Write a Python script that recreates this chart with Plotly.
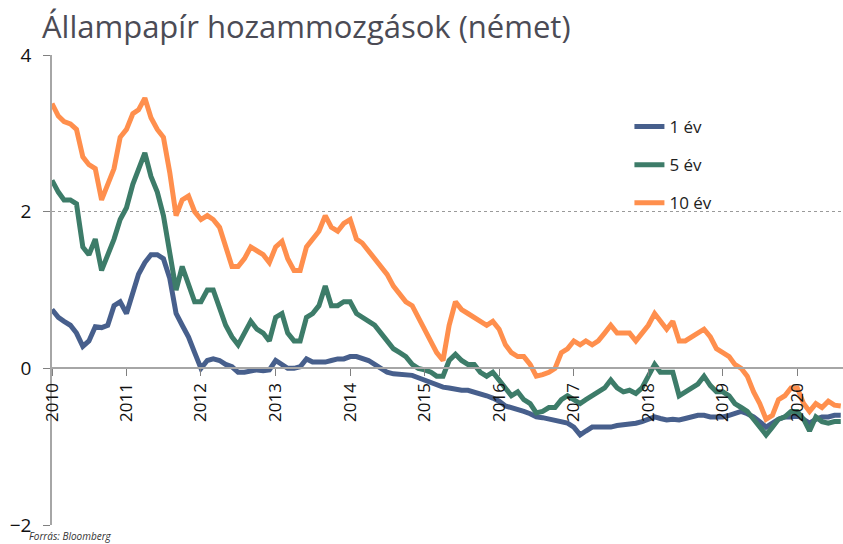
import plotly.graph_objects as go
import pandas as pd

dates = pd.date_range("2010-01-01", periods=128, freq="MS")

y1 = [0.75, 0.65, 0.60, 0.55, 0.45, 0.28, 0.35, 0.53, 0.52, 0.55, 0.80, 0.85,
      0.70, 0.95, 1.20, 1.35, 1.45, 1.45, 1.40, 1.15, 0.70, 0.55, 0.40, 0.20,
      0.00, 0.10, 0.12, 0.10, 0.05, 0.02, -0.05, -0.05, -0.03, -0.02, -0.03, -0.02,
      0.10, 0.05, 0.00, 0.00, 0.02, 0.12, 0.08, 0.08, 0.08, 0.10, 0.12, 0.12,
      0.15, 0.15, 0.12, 0.10, 0.05, 0.00, -0.05, -0.07, -0.08, -0.08, -0.09, -0.12,
      -0.15, -0.18, -0.22, -0.24, -0.25, -0.27, -0.28, -0.28, -0.30, -0.33, -0.35, -0.38,
      -0.42, -0.48, -0.50, -0.52, -0.55, -0.58, -0.62, -0.63, -0.65, -0.66, -0.68, -0.70,
      -0.75, -0.85, -0.80, -0.75, -0.75, -0.75, -0.75, -0.73, -0.72, -0.72, -0.70, -0.68,
      -0.65, -0.62, -0.64, -0.66, -0.65, -0.66, -0.64, -0.62, -0.60, -0.60, -0.62, -0.62,
      -0.62, -0.60, -0.57, -0.55, -0.58, -0.62, -0.68, -0.75, -0.70, -0.65, -0.62, -0.62,
      -0.60, -0.65, -0.70, -0.65, -0.62, -0.62, -0.60, -0.60]

y5 = [2.40, 2.25, 2.15, 2.15, 2.10, 1.55, 1.45, 1.65, 1.25, 1.45, 1.65, 1.90,
      2.05, 2.35, 2.55, 2.75, 2.45, 2.25, 1.95, 1.50, 1.00, 1.30, 1.05, 0.85,
      0.85, 1.00, 1.00, 0.75, 0.55, 0.40, 0.30, 0.45, 0.60, 0.50, 0.45, 0.35,
      0.65, 0.70, 0.45, 0.35, 0.35, 0.65, 0.70, 0.80, 1.05, 0.80, 0.80, 0.85,
      0.85, 0.70, 0.65, 0.60, 0.55, 0.45, 0.35, 0.25, 0.20, 0.15, 0.05, 0.00,
      -0.02, -0.05, -0.10, -0.10, 0.10, 0.18, 0.10, 0.05, 0.05, -0.05, -0.10, -0.05,
      -0.15, -0.25, -0.35, -0.30, -0.40, -0.45, -0.57, -0.55, -0.50, -0.50, -0.40, -0.35,
      -0.40, -0.45, -0.40, -0.35, -0.30, -0.25, -0.15, -0.25, -0.30, -0.28, -0.32, -0.25,
      -0.10, 0.05, -0.05, -0.05, -0.05, -0.35, -0.30, -0.25, -0.20, -0.10, -0.22, -0.30,
      -0.30, -0.35, -0.45, -0.50, -0.55, -0.65, -0.75, -0.85, -0.75, -0.65, -0.62, -0.55,
      -0.55, -0.65, -0.80, -0.62, -0.68, -0.70, -0.68, -0.68]

y10 = [3.38, 3.22, 3.15, 3.12, 3.05, 2.70, 2.60, 2.55, 2.15, 2.35, 2.55, 2.95,
       3.05, 3.25, 3.30, 3.45, 3.20, 3.05, 2.95, 2.50, 1.95, 2.15, 2.20, 2.00,
       1.90, 1.95, 1.90, 1.80, 1.55, 1.30, 1.30, 1.40, 1.55, 1.50, 1.45, 1.35,
       1.55, 1.62, 1.40, 1.25, 1.25, 1.55, 1.65, 1.75, 1.95, 1.80, 1.75, 1.85,
       1.90, 1.65, 1.60, 1.50, 1.40, 1.30, 1.20, 1.05, 0.95, 0.85, 0.80, 0.65,
       0.50, 0.35, 0.20, 0.10, 0.55, 0.85, 0.75, 0.70, 0.65, 0.60, 0.55, 0.60,
       0.50, 0.30, 0.20, 0.15, 0.15, 0.05, -0.10, -0.08, -0.05, 0.00, 0.20, 0.25,
       0.35, 0.30, 0.35, 0.30, 0.35, 0.45, 0.55, 0.45, 0.45, 0.45, 0.35, 0.45,
       0.55, 0.70, 0.60, 0.50, 0.60, 0.35, 0.35, 0.40, 0.45, 0.50, 0.40, 0.25,
       0.20, 0.15, 0.05, 0.00, -0.10, -0.30, -0.45, -0.65, -0.60, -0.40, -0.35, -0.25,
       -0.25, -0.45, -0.55, -0.45, -0.50, -0.42, -0.47, -0.48]

names = ["1 év", "5 év", "10 év"]
colors = ["#475f8c", "#3d7c69", "#ff8f4d"]
year_ticks = [f"{y}-01-01" for y in range(2010, 2021)]
year_labels = [str(y) for y in range(2010, 2021)]

fig = go.Figure()
for i, (nm, ys) in enumerate(zip(names, [y1, y5, y10])):
    fig.add_trace(go.Scatter(x=dates, y=ys, mode="lines", name=nm,
                             legendgroup=nm,
                             line=dict(color=colors[i], width=5)))

FONT = "Open Sans"
fig.update_layout(
    width=843, height=544,
    margin=dict(l=52, r=0, t=55, b=19, autoexpand=False),
    plot_bgcolor="white", paper_bgcolor="white",
    font=dict(family=FONT, color="#222222"),
    title=dict(text="Állampapír hozammozgások (német)", xref="container", yref="container",
               x=42/843, y=1-27/544, xanchor="left", yanchor="middle",
               font=dict(size=31, color="#4b4b55", family=FONT)),
    showlegend=True,
    legend=dict(x=0.73, y=0.885, xanchor="left", yanchor="top",
                font=dict(size=17, color="#222222"), bgcolor="rgba(0,0,0,0)",
                tracegroupgap=13, itemwidth=30),
    xaxis=dict(range=["2010-01-01", "2020-08-12"], anchor="free", position=1/3,
               tickvals=year_ticks, ticktext=year_labels, tickangle=-90,
               ticks="outside", ticklen=7, tickcolor="#808080",
               showline=True, linecolor="#a6a6a6", linewidth=2,
               showgrid=False, zeroline=False, automargin=False,
               tickfont=dict(size=17, color="#111111")),
    yaxis=dict(range=[-2, 4], tickvals=[-2, 0, 2, 4], ticks="outside", ticklen=7,
               tickcolor="#808080", showline=True, linecolor="#a6a6a6", linewidth=1.5,
               showgrid=True, gridcolor="#9a9a9a", griddash="dot", gridwidth=1,
               zeroline=False, ticklabelstandoff=8, automargin=False,
               tickfont=dict(size=19, color="#111111")),
)
fig.add_annotation(text="<i>Forrás: Bloomberg</i>", xref="paper", yref="paper",
                   x=-25/791, y=-11/470, xanchor="left", yanchor="middle",
                   showarrow=False, font=dict(size=10, color="#333333", family=FONT))

fig.write_html("out.html", config={"displayModeBar": False},
               post_script="document.body.style.margin='0';document.body.style.overflow='hidden';")
